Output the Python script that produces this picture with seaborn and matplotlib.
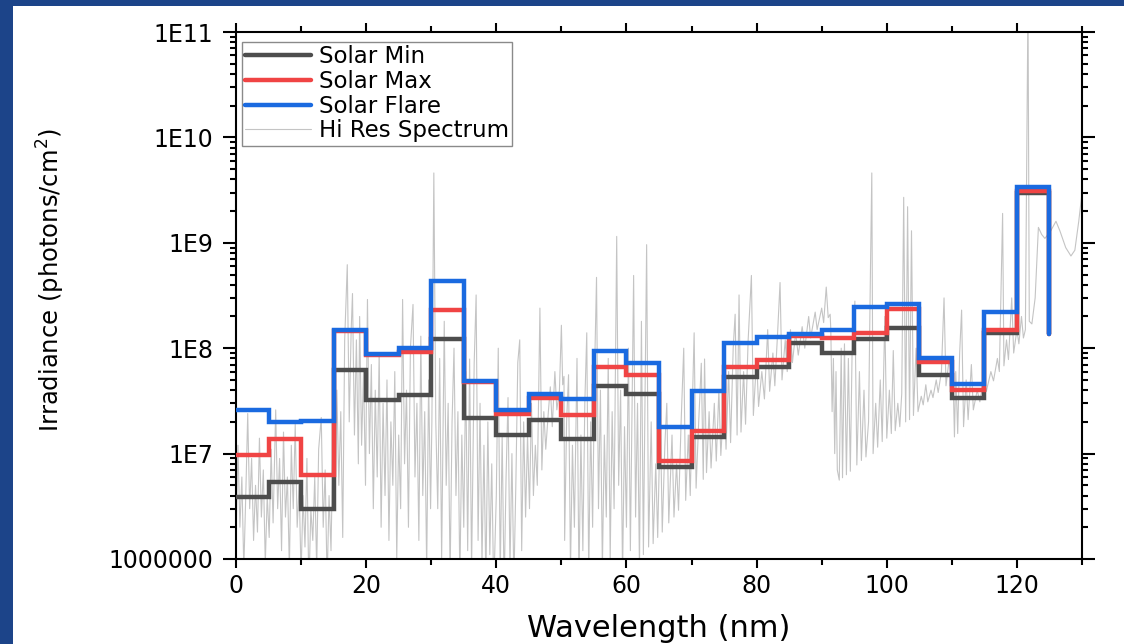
import numpy as np
import pandas as pd
import matplotlib
matplotlib.use("Agg")
import matplotlib.pyplot as plt
import seaborn as sns
from matplotlib.ticker import FixedLocator, FuncFormatter, NullFormatter, LogLocator
from matplotlib.patches import Rectangle

# ---------------- data ----------------
bin_edges = [0, 5, 10, 15, 20, 25, 30, 35, 40, 45, 50, 55, 60, 65, 70, 75,
             80, 85, 90, 95, 100, 105, 110, 115, 120, 125]

solar_min = [3.9e6, 5.4e6, 3.0e6, 6.2e7, 3.2e7, 3.6e7, 1.22e8, 2.2e7, 1.5e7, 2.1e7,
             1.38e7, 4.4e7, 3.7e7, 7.5e6, 1.45e7, 5.3e7, 6.7e7, 1.12e8, 9.1e7, 1.22e8,
             1.55e8, 5.6e7, 3.4e7, 1.4e8, 3.0e9, 1.37e8]
solar_max = [9.6e6, 1.38e7, 6.3e6, 1.45e8, 8.7e7, 9.3e7, 2.3e8, 4.8e7, 2.4e7, 3.4e7,
             2.3e7, 6.7e7, 5.6e7, 8.5e6, 1.63e7, 6.7e7, 7.7e7, 1.3e8, 1.25e8, 1.4e8,
             2.35e8, 7.4e7, 4.0e7, 1.5e8, 3.1e9, 1.37e8]
solar_flare = [2.6e7, 2.0e7, 2.05e7, 1.48e8, 8.9e7, 1.0e8, 4.35e8, 4.9e7, 2.6e7, 3.7e7,
               3.3e7, 9.5e7, 7.2e7, 1.77e7, 3.9e7, 1.12e8, 1.27e8, 1.35e8, 1.48e8, 2.48e8,
               2.6e8, 8.0e7, 4.6e7, 2.2e8, 3.4e9, 1.37e8]

# high-resolution spectrum (wavelength nm, irradiance)
hires_00_15 = [(0.0, 1.5e6), (0.3, 1.2e7), (0.6, 2e6), (0.9, 6e6), (1.2, 8e5), (1.5, 4e6),
               (1.8, 2.4e7), (2.1, 3e6), (2.4, 9e6), (2.7, 1.5e6), (3.0, 5e6), (3.3, 1.8e6),
               (3.6, 1.4e7), (3.9, 2.5e6), (4.2, 7e6), (4.5, 9e5), (4.8, 4e6), (5.1, 1.6e6),
               (5.4, 1.1e7), (5.7, 2.2e6), (6.1, 2.6e7), (6.4, 3e6), (6.7, 9e6), (7.0, 1.2e6),
               (7.3, 1.6e7), (7.6, 2.5e6), (7.9, 6e6), (8.2, 8e5), (8.5, 1.2e7), (8.8, 3e6),
               (9.1, 1.9e7), (9.4, 2e6), (9.7, 5e6), (10.0, 7e5), (10.3, 4e6), (10.6, 1.3e6),
               (10.9, 9e6), (11.2, 5e5), (11.5, 3e6), (11.8, 1.5e6), (12.1, 6e6), (12.4, 8e5),
               (12.7, 1.1e7), (13.1, 2.2e7), (13.4, 2e6), (13.7, 7e6), (14.0, 6e5), (14.3, 4e6),
               (14.6, 1.2e6), (14.9, 1.5e7)]
hires_15_38 = [(15.2, 3e6), (15.5, 4e7), (15.8, 5e6), (16.1, 2.5e7), (16.4, 1.6e6), (16.7, 1.2e8),
               (17.1, 6.2e8), (17.4, 2e7), (17.7, 1.5e8), (17.9, 3.3e8), (18.2, 1.5e7), (18.5, 1.2e8),
               (18.8, 8e6), (19.0, 2.0e8), (19.3, 1.2e7), (19.6, 6e7), (19.9, 5e6), (20.2, 2.9e8),
               (20.5, 1e7), (20.8, 7e7), (21.1, 3e6), (21.4, 4e7), (21.7, 6e6), (22.0, 9e7),
               (22.3, 2e6), (22.6, 3e7), (22.9, 4e6), (23.2, 5e7), (23.5, 1.5e6), (23.8, 2e7),
               (24.1, 5e6), (24.4, 6e7), (24.7, 1e6), (25.0, 1.5e7), (25.3, 3e6), (25.6, 2.9e8),
               (25.9, 8e6), (26.2, 4e7), (26.5, 2e6), (26.8, 1e8), (27.2, 2.6e8), (27.5, 6e6),
               (27.8, 3e7), (28.1, 1.5e6), (28.4, 1.3e8), (28.7, 4e6), (29.0, 2.5e7), (29.3, 8e5),
               (29.6, 5e7), (29.9, 3e6), (30.1, 2e7), (30.4, 4.6e9), (30.7, 2e7), (31.0, 3e6),
               (31.3, 8e7), (31.6, 1e6), (32.0, 1.8e8), (32.3, 5e6), (32.6, 3e7), (32.9, 7e5),
               (33.2, 2e7), (33.5, 1e8), (33.8, 4e6), (34.1, 2.5e7), (34.4, 6e5), (34.7, 1.5e7),
               (35.0, 2e6), (35.3, 6e7), (35.6, 1.2e6), (35.9, 7.9e7), (36.2, 8e5), (36.6, 7.2e7),
               (36.9, 3.2e8), (37.2, 1.5e6), (37.5, 3e7)]
hires_38_50 = [(37.8, 9e5), (38.1, 1.2e7), (38.4, 6e5), (38.7, 2e7), (39.0, 1.1e6), (39.3, 8e6),
               (39.6, 5e5), (40.0, 4e6), (40.3, 1.0e8), (40.6, 7e5), (40.9, 1.5e7), (41.2, 5e5),
               (41.5, 6e6), (41.8, 3.4e7), (42.1, 8e5), (42.4, 1e7), (42.7, 6e5), (43.0, 5e6),
               (43.3, 7.3e7), (43.6, 1.2e8), (43.9, 1.2e6), (44.2, 2e7), (44.5, 2.5e6), (44.8, 1.5e7),
               (45.1, 3e6), (45.4, 3e7), (45.7, 4e6), (46.0, 1.2e7), (46.3, 5e6), (46.7, 2.4e8),
               (47.0, 7e6), (47.3, 2.5e7), (47.6, 1.1e7), (48.0, 2.5e7), (48.3, 4.3e7), (48.6, 1.8e7),
               (49.0, 6e7), (49.3, 2.6e7), (49.7, 4e7), (50.0, 1.65e8), (50.2, 4.5e7), (50.4, 5.4e7)]
hires_50_63 = [(50.5, 1.5e6), (50.8, 2e7), (51.1, 5.6e7), (51.4, 8e5), (51.7, 1.2e7), (52.0, 2e6),
               (52.4, 8e7), (52.7, 6e5), (53.0, 1.5e7), (53.3, 1.2e6), (53.6, 3e7), (53.9, 1.4e8),
               (54.2, 7e5), (54.5, 2e7), (54.8, 2e6), (55.1, 6e7), (55.4, 4.7e8), (55.7, 3e6),
               (56.0, 4e7), (56.3, 8e5), (56.6, 1.5e7), (56.9, 2.5e6), (57.2, 8e7), (57.5, 1e6),
               (57.8, 2.5e7), (58.1, 3e6), (58.5, 1.15e9), (58.8, 5e6), (59.1, 4e7), (59.4, 7e5),
               (59.7, 1.8e7), (60.0, 2e6), (60.3, 1e8), (60.6, 1.2e6), (61.1, 4.9e8), (61.4, 2.5e6),
               (61.7, 3e7), (62.0, 8e5), (62.3, 1.8e8), (62.6, 1.1e6), (63.1, 9.6e8), (63.4, 1.3e6)]
hires_63_93 = [(63.8, 2e7), (64.1, 1.4e6), (64.5, 8e6), (64.8, 1.6e6), (65.2, 2.5e7), (65.5, 1.8e6),
               (65.9, 1.2e7), (66.2, 3e7), (66.5, 2.2e6), (67.0, 1.5e7), (67.3, 2.5e6), (67.7, 8e6),
               (68.0, 2.9e6), (68.4, 2e7), (68.8, 1e8), (69.1, 3.6e6), (69.5, 1.5e7), (69.8, 4e6),
               (70.1, 2.5e7), (70.4, 1.4e8), (70.7, 4.7e6), (71.1, 2e7), (71.5, 7.2e7), (71.8, 5.7e6),
               (72.0, 7.9e7), (72.3, 6.6e6), (72.7, 2.5e7), (73.0, 7.3e6), (73.5, 3e7), (73.8, 8.5e6),
               (74.2, 4e7), (74.5, 9.6e6), (75.0, 3.5e7), (75.3, 1.1e7), (75.7, 6e7), (76.0, 1.27e7),
               (76.4, 1e8), (76.7, 2.1e8), (77.0, 1.5e7), (77.3, 3.2e8), (77.6, 1.6e7), (78.0, 6e7),
               (78.3, 1.9e7), (78.7, 1.2e8), (79.2, 4.9e8), (79.5, 2.3e7), (80.0, 8e7), (80.3, 2.8e7),
               (80.8, 6e7), (81.2, 3.3e7), (81.7, 1.5e8), (82.0, 3.9e7), (82.5, 9e7), (82.8, 4.4e7),
               (83.2, 1.3e8), (83.6, 4.2e8), (83.9, 5e7), (84.4, 1.2e8), (84.7, 6e7), (85.2, 1.5e8),
               (85.5, 7.3e7), (86.0, 1.4e8), (86.4, 8.6e7), (87.0, 1.6e8), (87.4, 1.0e8), (88.0, 2e8),
               (88.3, 1.25e8), (89.0, 2.2e8), (89.3, 1.5e8), (90.0, 2.4e8), (90.3, 1.75e8), (90.7, 3.8e8),
               (91.0, 1.95e8), (91.3, 2.1e8), (91.4, 1.5e8), (91.6, 2.5e7), (91.8, 8e7), (92.0, 1e7),
               (92.2, 6e7), (92.4, 7e6), (92.7, 5.6e6)]
hires_93_110 = [(93.0, 1e8), (93.2, 5.9e6), (93.5, 1.1e8), (93.8, 6.3e6), (94.1, 8e7), (94.4, 6.8e6),
                (94.7, 1.2e8), (95.1, 2.8e8), (95.4, 7.8e6), (95.8, 6e7), (96.1, 8.6e6), (96.5, 4e7),
                (96.8, 9.3e6), (97.2, 2e7), (97.5, 5.9e8), (97.7, 4.6e9), (97.9, 1e7), (98.3, 3e7),
                (98.6, 1.15e7), (99.0, 5e7), (99.3, 1.3e7), (99.7, 2e8), (100.0, 1.4e7), (100.4, 4e7),
                (100.7, 1.55e7), (101.0, 9.5e7), (101.3, 1.65e7), (101.7, 3e7), (102.0, 1.8e7),
                (102.3, 3.7e7), (102.6, 2.7e9), (102.9, 2e7), (103.2, 2.2e9), (103.5, 2.1e7),
                (103.8, 1.3e9), (104.1, 2.3e7), (104.5, 1e8), (104.8, 2.5e7), (105.3, 3.5e7),
                (105.6, 2.9e7), (106.0, 4.5e7), (106.3, 3.1e7), (106.8, 4e7), (107.1, 3.4e7),
                (107.6, 5e7), (107.9, 3.8e7), (108.4, 6e7), (108.8, 3e8), (109.1, 4.4e7),
                (109.6, 8e7), (110.0, 4.9e7), (110.2, 5e7), (110.4, 1.44e7)]
hires_110_130 = [(110.6, 6e7), (110.9, 1.55e7), (111.2, 9e7), (111.5, 2.3e8), (111.8, 1.8e7),
                 (112.2, 5e7), (112.5, 2.1e7), (113.0, 7e7), (113.3, 2.6e7), (113.9, 4e7),
                 (114.3, 3.1e7), (114.9, 5e7), (115.3, 3.9e7), (116.0, 6e7), (116.4, 4.9e7),
                 (117.0, 8e7), (117.3, 6e7), (117.8, 1.9e9), (118.0, 6.8e7), (118.4, 1.2e8),
                 (118.7, 7.8e7), (119.2, 3e8), (119.5, 9e7), (120.0, 1.5e8), (120.3, 1.1e8),
                 (120.7, 2e8), (121.0, 1.25e8), (121.3, 1.5e8), (121.7, 2e11), (121.9, 1.8e8),
                 (122.3, 1.7e8), (122.8, 3e8), (123.3, 1.4e9), (123.8, 1.2e9), (124.3, 1.1e9),
                 (125.2, 1.3e9), (126.0, 1.6e9), (126.6, 1.3e9), (127.5, 9e8), (128.3, 7.5e8),
                 (128.9, 8.5e8), (129.5, 1.6e9), (130.2, 3.8e9)]

ytick_values = [1e6, 1e7, 1e8, 1e9, 1e10, 1e11]
ytick_labels = ["1000000", "1E7", "1E8", "1E9", "1E10", "1E11"]
xtick_major = [0, 20, 40, 60, 80, 100, 120]
xtick_minor = [10, 30, 50, 70, 90, 110, 130]

series_names = ["Solar Min", "Solar Max", "Solar Flare", "Hi Res Spectrum"]

# ---------------- style ----------------
sns.set_style("ticks")
plt.rcParams["font.family"] = ["DejaVu Sans"]
plt.rcParams["mathtext.fontset"] = "dejavusans"
plt.rcParams["text.color"] = "black"
plt.rcParams["axes.labelcolor"] = "black"

NAVY = "#1c4489"
fig = plt.figure(figsize=(11.24, 6.44), dpi=100, facecolor=NAVY)
fig.patches.append(Rectangle((13 / 1124, 0), 1, 1 - 6 / 644, transform=fig.transFigure,
                             facecolor="white", edgecolor="none", zorder=-10))
ax = fig.add_axes([236 / 1124, 1 - 559 / 644, (1082 - 236) / 1124, (559 - 32) / 644])
ax.set_zorder(2)
ax.set_facecolor("white")
ax.set_yscale("log")

hires = pd.DataFrame(hires_00_15 + hires_15_38 + hires_38_50 + hires_50_63 +
                     hires_63_93 + hires_93_110 + hires_110_130, columns=["wl", "irr"])

sns.lineplot(data=hires, x="wl", y="irr", ax=ax, color="#c4c4c4", lw=0.8,
             estimator=None, sort=False, label=series_names[3], zorder=1)

steps = pd.DataFrame({"wl": bin_edges, "min": solar_min, "max": solar_max, "flare": solar_flare})
for col, name, color in [("min", series_names[0], "#4d4d4d"),
                         ("max", series_names[1], "#f04444"),
                         ("flare", series_names[2], "#1a6ae0")]:
    sns.lineplot(data=steps, x="wl", y=col, ax=ax, color=color, lw=3.2,
                 drawstyle="steps-post", estimator=None, sort=False, label=name,
                 zorder=3, solid_joinstyle="miter")

ax.set_xlim(0, 130)
ax.set_ylim(1e6, 1e11)

ax.yaxis.set_major_locator(FixedLocator(ytick_values))
ax.yaxis.set_major_formatter(FuncFormatter(lambda v, p: ytick_labels[ytick_values.index(min(ytick_values, key=lambda t: abs(np.log10(t) - np.log10(v))))]))
ax.yaxis.set_minor_locator(LogLocator(base=10, subs=np.arange(2, 10)))
ax.yaxis.set_minor_formatter(NullFormatter())
ax.xaxis.set_major_locator(FixedLocator(xtick_major))
ax.xaxis.set_minor_locator(FixedLocator(xtick_minor))

for s in ax.spines.values():
    s.set_visible(True)
    s.set_linewidth(1.5)
    s.set_color("black")

ax.tick_params(axis="both", which="both", direction="out", top=True, right=True,
               color="black", width=1.5, labelsize=17, labelcolor="black")
ax.tick_params(axis="y", which="major", length=9.5, pad=7)
ax.tick_params(axis="y", which="minor", length=4.5)
ax.tick_params(axis="x", which="major", length=6.5, pad=4)
ax.tick_params(axis="x", which="minor", length=4)

ax.set_xlabel("Wavelength (nm)", fontsize=22, color="black")
ax.set_ylabel("Irradiance (photons/cm$^2$)", fontsize=17.5, color="black")
ax.xaxis.set_label_coords(0.5, -0.105)
ax.yaxis.set_label_coords(-0.2, 0.53)

handles, labels = ax.get_legend_handles_labels()
order = [labels.index(n) for n in series_names]
leg = ax.legend([handles[i] for i in order], [labels[i] for i in order],
                loc="upper left", bbox_to_anchor=(0.007, 0.981), borderaxespad=0,
                fontsize=16.5, frameon=True, fancybox=False, framealpha=1,
                edgecolor="#8a8a8a", handlelength=2.85, handletextpad=0.35,
                labelspacing=0.07, borderpad=0.15)
leg.get_frame().set_linewidth(1.0)
leg.set_zorder(5)
for t in leg.get_texts():
    t.set_color("black")

fig.savefig("out.png", dpi=100)
